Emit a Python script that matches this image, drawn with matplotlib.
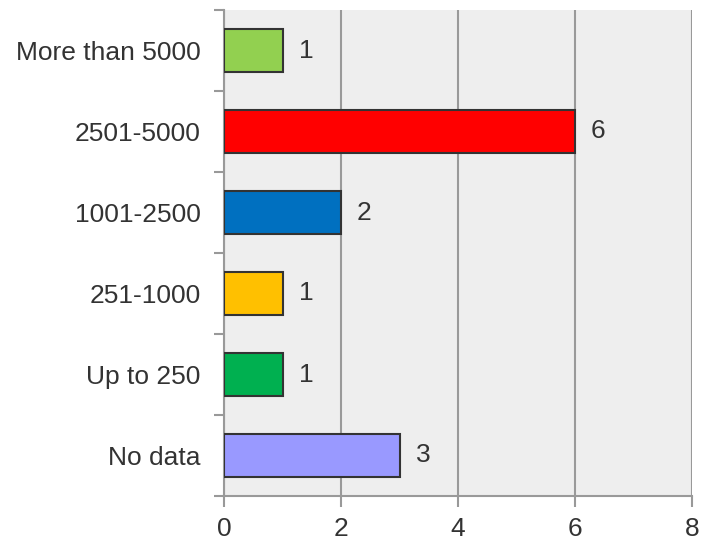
import matplotlib
matplotlib.use("Agg")
import matplotlib.pyplot as plt
from matplotlib.ticker import FixedLocator

categories = ["No data", "Up to 250", "251-1000", "1001-2500", "2501-5000", "More than 5000"]
values = [3, 1, 1, 2, 6, 1]
colors = ["#9999ff", "#00b050", "#ffc000", "#0070c0", "#ff0000", "#92d050"]
xticks = [0, 2, 4, 6, 8]

plt.rcParams['font.family'] = ['Liberation Sans', 'DejaVu Sans']
FS = 19

fig = plt.figure(figsize=(7.01, 5.43), dpi=100)
ax = fig.add_axes([224/701, 1-496/543, (692-224)/701, (496-10)/543])
ax.set_facecolor("#eeeeee")

y = list(range(len(categories)))
ax.barh(y, values, height=0.52, color=colors, edgecolor="#333333", linewidth=1.5, zorder=3)
for yi, v in zip(y, values):
    ax.text(v + 0.4, yi, str(v), va="center", ha="center", fontsize=FS, color="#333333", zorder=4)

ax.set_xlim(0, 8)
ax.set_ylim(-0.5, len(categories) - 0.5)
ax.set_xticks(xticks)
ax.set_yticks(y)
ax.set_yticklabels(categories)
ax.yaxis.set_minor_locator(FixedLocator([i - 0.5 for i in range(len(categories) + 1)]))
ax.tick_params(axis="y", which="major", length=0, pad=17, labelsize=FS, labelcolor="#333333")
ax.tick_params(axis="y", which="minor", length=7, width=1.5, color="#999999")
ax.tick_params(axis="x", which="major", length=8, width=1.5, color="#999999", labelsize=FS, labelcolor="#333333", pad=7)

ax.grid(axis="x", color="#999999", linewidth=1.5, zorder=0)
ax.set_axisbelow(True)
for s in ["top", "right"]:
    ax.spines[s].set_visible(False)
for s in ["left", "bottom"]:
    ax.spines[s].set_color("#999999")
    ax.spines[s].set_linewidth(1.5)

fig.savefig("out.png", dpi=100)
